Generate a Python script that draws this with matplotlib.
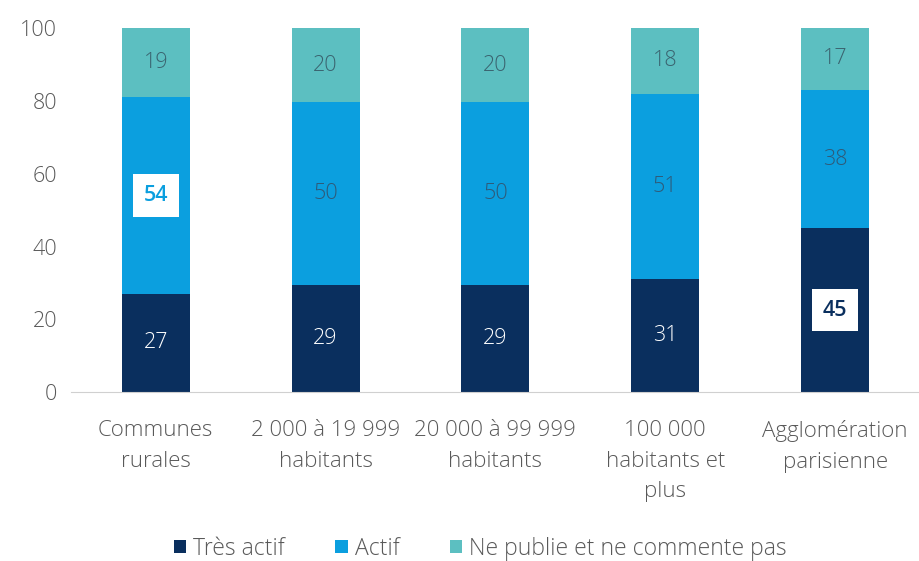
import matplotlib
matplotlib.use("Agg")
import matplotlib.pyplot as plt
import numpy as np

plt.rcParams['font.family'] = ['Open Sans', 'DejaVu Sans']

categories = ["Communes\nrurales", "2 000 à 19 999\nhabitants", "20 000 à 99 999\nhabitants",
              "100 000\nhabitants et\nplus", "Agglomération\nparisienne"]
tres_actif = [27, 29.4, 29.4, 31, 45]
actif = [54, 50.3, 50.3, 51, 38]
ne_publie = [19, 20.3, 20.3, 18, 17]
series_names = ["Très actif", "Actif", "Ne publie et ne commente pas"]
yticks = [0, 20, 40, 60, 80, 100]

c_dark = "#0A2F5E"
c_blue = "#0B9FDF"
c_teal = "#5CBFC1"

fig = plt.figure(figsize=(9.2, 5.61), dpi=100)
ax = fig.add_axes([0.077, 0.301, 0.923, 0.649])

x = np.arange(len(categories))
w = 0.4
b1 = ax.bar(x, tres_actif, w, color=c_dark, label=series_names[0])
b2 = ax.bar(x, actif, w, bottom=tres_actif, color=c_blue, label=series_names[1])
bottom2 = np.array(tres_actif) + np.array(actif)
b3 = ax.bar(x, ne_publie, w, bottom=bottom2, color=c_teal, label=series_names[2])

fs = 15.5
lw = 'light'
for i in range(len(categories)):
    # bottom
    y = tres_actif[i] / 2
    if i == 4:
        ax.text(x[i], y, f"{tres_actif[i]:.0f}", ha='center', va='center', fontsize=fs,
                color=c_dark, fontweight='semibold',
                bbox=dict(boxstyle='square,pad=0.5', fc='white', ec='none'))
    else:
        ax.text(x[i], y, f"{tres_actif[i]:.0f}", ha='center', va='center', fontsize=fs,
                color='white', fontweight=lw)
    # middle
    y = tres_actif[i] + actif[i] / 2
    if i == 0:
        ax.text(x[i], y, f"{actif[i]:.0f}", ha='center', va='center', fontsize=fs,
                color=c_blue, fontweight='semibold',
                bbox=dict(boxstyle='square,pad=0.5', fc='white', ec='none'))
    else:
        ax.text(x[i], y, f"{actif[i]:.0f}", ha='center', va='center', fontsize=fs,
                color='#2F5A78', fontweight=lw)
    # top
    y = bottom2[i] + ne_publie[i] / 2
    ax.text(x[i], y, f"{ne_publie[i]:.0f}", ha='center', va='center', fontsize=fs,
            color='#3A6470', fontweight=lw)

ax.set_xlim(-0.5, 4.5)
ax.set_ylim(0, 100)
ax.set_yticks(yticks)
ax.set_xticks(x)
ax.set_xticklabels(categories, fontsize=16, color='#595959', linespacing=1.6, fontweight=lw)
for t in ax.get_yticklabels():
    t.set_fontweight(lw)
ax.tick_params(axis='y', labelsize=15.5, labelcolor='#595959', length=0, pad=10)
ax.tick_params(axis='x', length=0, pad=20)
for s in ['top', 'right', 'left']:
    ax.spines[s].set_visible(False)
ax.spines['bottom'].set_color('#D0D0D0')

leg = fig.legend(handles=[b1, b2, b3], labels=series_names, loc='center',
                 bbox_to_anchor=(0.522, 0.022), ncol=3, frameon=False,
                 prop={'size': 16.5, 'weight': lw},
                 handlelength=0.55, handleheight=0.55, handletextpad=0.3, columnspacing=2.2,
                 labelcolor='#595959')

fig.savefig("out.png", dpi=100, facecolor='white')
